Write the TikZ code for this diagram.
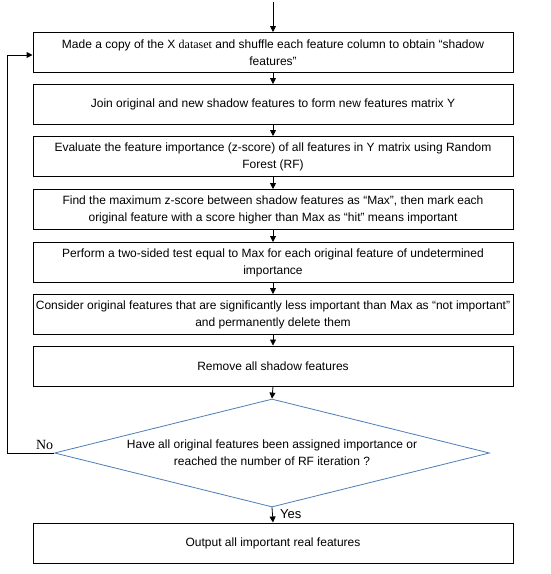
\documentclass[tikz,border=0pt]{standalone}
\usepackage{fontspec}
\setmainfont{Liberation Sans}
\newfontfamily\serifface{Liberation Serif}
\usetikzlibrary{positioning, shapes.geometric, arrows.meta}

\definecolor{diamondblue}{RGB}{74,126,187}

\tikzset{
  stepbox/.style={draw, line width=1pt, minimum width=480pt, minimum height=40pt, align=center, inner sep=2pt, font=\fontsize{12}{17}\selectfont},
  flow/.style={-{Triangle[length=6pt,width=6pt]}, line width=0.8pt}
}

\begin{document}
\begin{tikzpicture}[x=1pt,y=1pt]
    \useasboundingbox (0,0) rectangle (550,-574);

    % Draw process boxes
    \foreach \i/\y/\t in {
      1/-52.5/{Made a copy of the X {\serifface dataset} and shuffle each feature column to obtain “shadow\\features”},
      2/-104.5/{Join original and new shadow features to form new features matrix Y},
      3/-156.5/{Evaluate the feature importance (z-score) of all features in Y matrix using Random\\Forest (RF)},
      4/-209.5/{Find the maximum z-score between shadow features as “Max”, then mark each\\original feature with a score higher than Max as “hit” means important},
      5/-262.5/{Perform a two-sided test equal to Max for each original feature of undetermined\\importance},
      6/-314.5/{Consider original features that are significantly less important than Max as “not important”\\and permanently delete them},
      7/-366/{Remove all shadow features}} {
      \node[stepbox] (b\i) at (273,\y) {\t};
    }

    % Decision and output
    \node[diamond, draw=diamondblue, line width=0.8pt, minimum width=435pt, minimum height=108pt, inner sep=0pt, aspect=4, align=center, font=\fontsize{12}{17}\selectfont] (check) at (272,-453) {Have all original features been assigned importance or\\reached the number of RF iteration ?};
    \node[stepbox] (out) at (273,-543) {Output all important real features};

    % Draw arrows
    \coordinate (start) at (273,-2);
    \draw[flow] (start) -- (b1);
    \foreach \i/\j in {1/2, 2/3, 3/4, 4/5, 5/6, 6/7} {
      \draw[flow] (b\i) -- (b\j);
    }
    \draw[flow] (b7.south) -- (check.north);
    \draw[flow] (check.south) -- (out.north) node[pos=0.45, right, xshift=4pt, font=\fontsize{13}{15}\selectfont] {Yes};

    % Loop back
    \coordinate (back) at (7,-453);
    \draw[flow, line width=1pt] (check.west) -- node[above, pos=0.2, font=\serifface\fontsize{14}{16}\selectfont] {No} (back) |- ([yshift=-2.5pt]b1.west);

\end{tikzpicture}
\end{document}
